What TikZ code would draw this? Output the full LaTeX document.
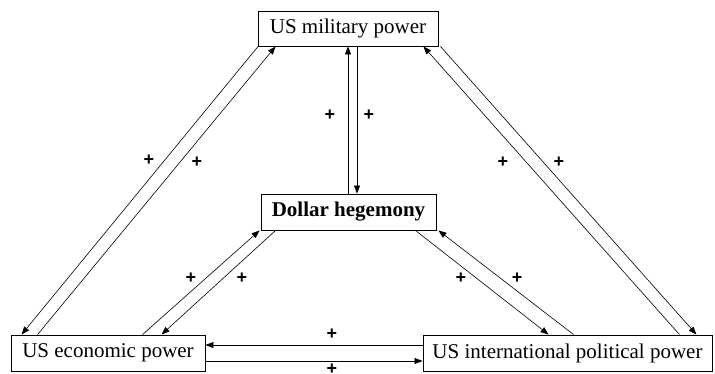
\documentclass[tikz,border=0pt]{standalone}
\usepackage{fontspec}
\setmainfont{Liberation Serif}
\newfontfamily\plusfont{Liberation Sans}
\usetikzlibrary{arrows.meta}
\begin{document}
\begin{tikzpicture}[x=1pt,y=-1pt,
  box/.style={draw,line width=0.9pt,inner sep=0pt,font=\fontsize{21}{24}\selectfont},
  conn/.style={line width=0.6pt,-{Triangle[length=8pt,width=6pt]}},
  plus/.style={font=\plusfont\bfseries\fontsize{18}{22}\selectfont,inner sep=0pt}]
\useasboundingbox (0,0) rectangle (715,374);
\node[box,minimum width=180pt,minimum height=35pt] (mil) at (348,28.5) {US military power};
\node[box,minimum width=175pt,minimum height=36pt,font=\fontsize{21}{24}\selectfont\bfseries] (dol) at (348.5,212) {Dollar hegemony};
\node[box,minimum width=194pt,minimum height=36pt] (eco) at (108,353) {US economic power};
\node[box,minimum width=289pt,minimum height=36pt] (pol) at (567.5,353) {US international political power};
% left long pair
\draw[conn] ([xshift=0.5pt]mil.south west) -- ([xshift=11pt]eco.north west);
\draw[conn] ([xshift=27pt]eco.north west) -- ([xshift=18pt]mil.south west);
% econ - dollar
\draw[conn] ([xshift=132pt]eco.north west) -- ([xshift=-1pt]dol.south west);
\draw[conn] ([xshift=15pt]dol.south west) -- ([xshift=151pt]eco.north west);
% right long pair
\draw[conn] ([xshift=2pt]mil.south east) -- ([xshift=-16pt]pol.north east);
\draw[conn] ([xshift=-33pt]pol.north east) -- ([xshift=-15pt]mil.south east);
% dollar - political
\draw[conn] ([xshift=-21pt]dol.south east) -- ([xshift=126pt]pol.north west);
\draw[conn] ([xshift=151pt]pol.north west) -- ([xshift=2pt]dol.south east);
% vertical pair
\draw[conn] ([xshift=-0.5pt]dol.north) -- ([xshift=0pt]mil.south);
\draw[conn] ([xshift=9pt]mil.south) -- ([xshift=8.5pt]dol.north);
% horizontal pair
\draw[conn] ([yshift=8pt]pol.west) -- ([yshift=8pt]eco.east);
\draw[conn] ([yshift=-8pt]eco.east) -- ([yshift=-8pt]pol.west);
% labels
\node[plus] (p1) at (149,160) {+};
\node[plus] (p2) at (197,162) {+};
\node[plus] (p3) at (330,115) {+};
\node[plus] (p4) at (369,115) {+};
\node[plus] (p5) at (503,162) {+};
\node[plus] (p6) at (559,162) {+};
\node[plus] (p7) at (191,278) {+};
\node[plus] (p8) at (242,278) {+};
\node[plus] (p9) at (461,278) {+};
\node[plus] (p10) at (517,278) {+};
\node[plus] (p11) at (332,334) {+};
\node[plus] (p12) at (332,369) {+};
\end{tikzpicture}
\end{document}
